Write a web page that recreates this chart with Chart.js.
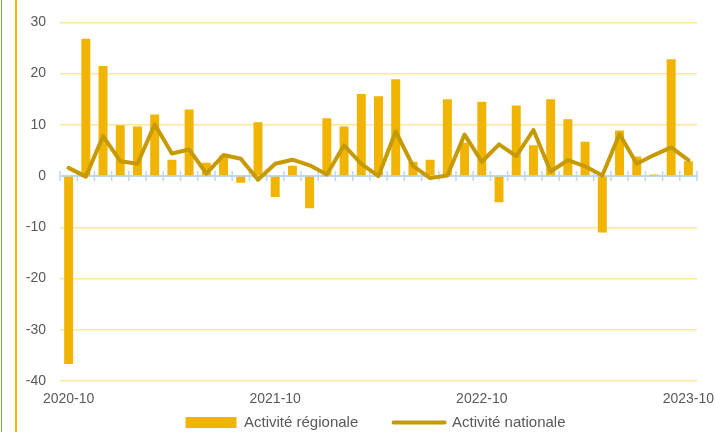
<!DOCTYPE html>
<html lang="fr">
<head>
<meta charset="UTF-8">
<title>Activité régionale et nationale</title>
<script src="https://cdn.jsdelivr.net/npm/chart.js@4/dist/chart.umd.min.js"></script>
<style>
  html, body { margin: 0; padding: 0; background: #fff; }
  .chart-container { position: relative; width: 715px; height: 432px; }
</style>
</head>
<body>
<div class="chart-container">
  <canvas id="myChart" width="715" height="432"></canvas>
</div>
<script>
// mois (catégories)
const months = [
  '2020-10','2020-11','2020-12','2021-01','2021-02','2021-03','2021-04','2021-05','2021-06','2021-07','2021-08','2021-09',
  '2021-10','2021-11','2021-12','2022-01','2022-02','2022-03','2022-04','2022-05','2022-06','2022-07','2022-08','2022-09',
  '2022-10','2022-11','2022-12','2023-01','2023-02','2023-03','2023-04','2023-05','2023-06','2023-07','2023-08','2023-09',
  '2023-10'
];
// libellés affichés sur l'axe X
const shownLabels = ['2020-10', '2021-10', '2022-10', '2023-10'];

const regionale = [-36.7, 26.8, 21.5, 9.9, 9.7, 12.0, 3.2, 13.0, 2.6, 4.0, -1.3, 10.5, -4.1, 2.0, -6.3, 11.3, 9.7, 16.0, 15.6,
  18.9, 2.8, 3.2, 15.0, 6.5, 14.5, -5.1, 13.8, 6.0, 15.0, 11.1, 6.7, -11.0, 8.9, 3.8, 0.3, 22.8, 2.9];
const nationale = [1.6, -0.1, 7.8, 2.9, 2.4, 10.1, 4.4, 5.2, 0.5, 4.1, 3.4, -0.7, 2.4, 3.2, 2.1, 0.3, 6.0, 2.4, 0.0,
  8.7, 2.0, -0.4, 0.1, 8.1, 2.8, 6.2, 3.9, 9.0, 0.9, 3.1, 1.9, 0.1, 8.2, 2.4, 4.1, 5.6, 3.1];

const yTicks = [30, 20, 10, 0, -10, -20, -30, -40];

const BAR = '#F1B400';
const LINE = '#C69A04';
const GRID = '#FFE69C';
const ZERO = '#BDD7EE';
const TXT = '#595959';
const FONT = 'Liberation Sans, Arial, sans-serif';

// ligne du zéro avec petites graduations entre les mois
const zeroAxis = {
  id: 'zeroAxis',
  beforeDatasetsDraw(chart) {
    const {ctx, chartArea, scales: {x, y}} = chart;
    const y0 = y.getPixelForValue(0);
    ctx.save();
    ctx.strokeStyle = ZERO;
    ctx.lineWidth = 2;
    ctx.beginPath();
    ctx.moveTo(chartArea.left, y0);
    ctx.lineTo(chartArea.right, y0);
    ctx.stroke();
    ctx.lineWidth = 1.5;
    const n = months.length;
    for (let i = 0; i <= n; i++) {
      let px;
      if (i === 0) px = chartArea.left;
      else if (i === n) px = chartArea.right;
      else px = (x.getPixelForValue(i - 1) + x.getPixelForValue(i)) / 2;
      ctx.beginPath();
      ctx.moveTo(px, y0 - 5);
      ctx.lineTo(px, y0 + 5);
      ctx.stroke();
    }
    ctx.restore();
  }
};

// bordures verticales à gauche
const frame = {
  id: 'frame',
  afterDraw(chart) {
    const {ctx, height} = chart;
    ctx.save();
    ctx.strokeStyle = '#70AD47';
    ctx.lineWidth = 1;
    ctx.beginPath();
    ctx.moveTo(1.5, 0);
    ctx.lineTo(1.5, height);
    ctx.stroke();
    ctx.strokeStyle = BAR;
    ctx.lineWidth = 2;
    ctx.beginPath();
    ctx.moveTo(16, 0);
    ctx.lineTo(16, height);
    ctx.stroke();
    ctx.restore();
  }
};

// descend un peu la légende
const legendShift = {
  id: 'legendShift',
  afterLayout(chart) {
    if (chart.legend) {
      chart.legend.top += 8;
      chart.legend.bottom += 8;
      chart.legend.left -= 3;
      chart.legend.right -= 3;
    }
  }
};

const ctx = document.getElementById('myChart').getContext('2d');
const myChart = new Chart(ctx, {
  data: {
    labels: months,
    datasets: [
      {
        type: 'line',
        label: 'Activité nationale',
        data: nationale,
        borderColor: LINE,
        backgroundColor: LINE,
        borderWidth: 4,
        pointRadius: 0,
        tension: 0,
        borderJoinStyle: 'round',
        borderCapStyle: 'round',
        order: 1
      },
      {
        type: 'bar',
        label: 'Activité régionale',
        data: regionale,
        backgroundColor: BAR,
        borderWidth: 0,
        barPercentage: 0.52,
        categoryPercentage: 1.0,
        order: 2
      }
    ]
  },
  options: {
    responsive: false,
    animation: false,
    devicePixelRatio: 1,
    layout: { padding: { left: 0, right: 18, top: 22, bottom: 0 } },
    plugins: {
      tooltip: { enabled: false },
      legend: {
        position: 'bottom',
        fullSize: false,
        reverse: true,
        labels: {
          usePointStyle: true,
          pointStyleWidth: 51,
          boxHeight: 11,
          padding: 2,
          color: TXT,
          font: { family: FONT, size: 15 },
          generateLabels(chart) {
            const items = Chart.defaults.plugins.legend.labels.generateLabels(chart);
            items.forEach(it => {
              if (it.datasetIndex === 1) {
                it.pointStyle = 'rect';
                it.fillStyle = BAR;
                it.strokeStyle = BAR;
                it.lineWidth = 0;
                it.text = it.text + '        ';
              } else {
                it.pointStyle = 'line';
                it.strokeStyle = LINE;
                it.lineWidth = 4;
                it.lineCap = 'round';
              }
            });
            return items;
          }
        }
      }
    },
    scales: {
      x: {
        afterFit(scale) {
          scale.height = 24;
          scale.paddingLeft = 0;
          scale.paddingRight = 0;
        },
        grid: { display: false, drawTicks: false },
        border: { display: false },
        ticks: {
          autoSkip: false,
          maxRotation: 0,
          padding: 10,
          color: TXT,
          font: { family: FONT, size: 14 },
          callback(value, index) {
            const m = months[index];
            return shownLabels.includes(m) ? m : '';
          }
        }
      },
      y: {
        min: -40,
        max: 30,
        afterFit(scale) { scale.width = 60; },
        afterBuildTicks(scale) { scale.ticks = yTicks.map(v => ({ value: v })); },
        grid: {
          drawTicks: false,
          lineWidth: 1.5,
          color: c => (c.tick && c.tick.value === 0) ? 'rgba(0,0,0,0)' : GRID
        },
        border: { display: false },
        ticks: {
          padding: 14,
          color: TXT,
          font: { family: FONT, size: 14 }
        }
      }
    }
  },
  plugins: [zeroAxis, frame, legendShift]
});
</script>
</body>
</html>
